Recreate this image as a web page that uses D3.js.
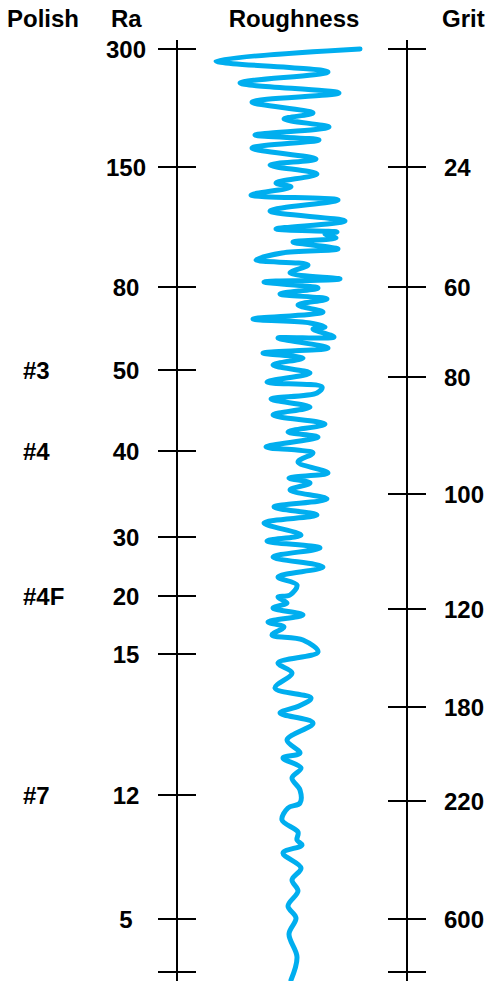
<!DOCTYPE html>
<html>
<head>
<meta charset="utf-8">
<script src="https://cdn.jsdelivr.net/npm/d3@7"></script>
<style>
  html, body { margin: 0; padding: 0; background: #fff; }
  svg { display: block; }
  text { font-family: "Liberation Sans", Arial, Helvetica, sans-serif; font-weight: bold; font-size: 24px; fill: #000; }
</style>
</head>
<body>
<script>
// ---- data ----
const headers = ["Polish", "Ra", "Roughness", "Grit"];

// Ra axis: tick labels and their depth on the chart (depth units, 0 = top of axes)
const raLabels = ["300", "150", "80", "50", "40", "30", "20", "15", "12", "5", ""];
const raDepth  = [9, 127, 247, 330, 411, 497, 556, 614, 755, 879, 932];

// Grit axis
const gritLabels = ["", "24", "60", "80", "100", "120", "180", "220", "600", ""];
const gritDepth  = [9, 127, 247, 337, 454, 569, 667, 761, 879, 932];

// Polish grades, aligned with Ra ticks
const polishLabels = ["#3", "#4", "#4F", "#7"];
const polishDepth  = [330, 411, 556, 755];

// Roughness trace: depth along the chart and lateral deflection (left -, right +)
const roughDepth = [9,21,32,43,53,62,73,79,87,95,100,108,119,125,134,143,147,155,160,171,181,189,192,194,198,202,209,213,220,225,233,239,242,248,254,259,265,272,279,283,287,289,297,298,308,313,318,325,333,342,347,353,359,367,375,384,392,397,407,410,413,422,433,438,443,450,459,467,475,483,495,501,508,517,527,537,545,555,557,563,568,575,582,587,595,600,612,623,633,648,658,666,673,683,700,713,718,728,738,750,763,768,780,792,800,805,813,828,840,851,866,878,894,917,940];
const roughAmp   = [66,-78,34,-54,45,-42,19,-10,35,-39,25,-42,22,-24,23,-18,-3,-43,44,-24,51,-18,43,31,42,-1,44,-12,-38,14,-4,46,-30,24,-14,33,4,29,-41,16,31,19,40,-16,34,-31,9,-21,16,-27,28,23,-23,16,-21,31,-6,24,-28,3,19,4,34,-5,16,-4,33,-20,23,-30,7,-27,26,-21,29,-16,3,-4,-16,-7,-21,9,-26,-10,-22,9,24,-16,-2,-19,17,5,-14,19,-7,6,-11,7,-2,6,6,-6,-12,4,3,8,-11,7,-2,4,-6,2,-5,3,-3];

// ---- layout ----
const W = 490, H = 981;
const svg = d3.select("body").append("svg").attr("width", W).attr("height", H);

const y = d3.scaleLinear().domain([0, 941]).range([40, 981]);
const xRough = d3.scaleLinear().domain([-100, 100]).range([194, 394]);

const raX = 177, gritX = 407, tickHalf = 19;
const axisStroke = "#000";

// headers
const headerPos = [
  { x: 7, anchor: "start" },
  { x: 111, anchor: "start" },
  { x: 294, anchor: "middle" },
  { x: 442, anchor: "start" }
];
svg.selectAll("text.header").data(headers).join("text")
  .attr("class", "header")
  .attr("x", (d, i) => headerPos[i].x)
  .attr("y", 27)
  .attr("text-anchor", (d, i) => headerPos[i].anchor)
  .text(d => d);

// axis lines
[raX, gritX].forEach(ax => {
  svg.append("line")
    .attr("x1", ax).attr("x2", ax)
    .attr("y1", y(0)).attr("y2", y(941))
    .attr("stroke", axisStroke).attr("stroke-width", 2);
});

// Ra ticks
svg.selectAll("line.raTick").data(raDepth).join("line")
  .attr("class", "raTick")
  .attr("x1", raX - tickHalf).attr("x2", raX + tickHalf)
  .attr("y1", d => y(d)).attr("y2", d => y(d))
  .attr("stroke", axisStroke).attr("stroke-width", 2);
svg.selectAll("text.raLabel").data(raLabels).join("text")
  .attr("class", "raLabel")
  .attr("x", 126)
  .attr("y", (d, i) => y(raDepth[i]) + 8.5)
  .attr("text-anchor", "middle")
  .text(d => d);

// Grit ticks
svg.selectAll("line.gritTick").data(gritDepth).join("line")
  .attr("class", "gritTick")
  .attr("x1", gritX - tickHalf).attr("x2", gritX + tickHalf)
  .attr("y1", d => y(d)).attr("y2", d => y(d))
  .attr("stroke", axisStroke).attr("stroke-width", 2);
svg.selectAll("text.gritLabel").data(gritLabels).join("text")
  .attr("class", "gritLabel")
  .attr("x", 444)
  .attr("y", (d, i) => y(gritDepth[i]) + 9)
  .attr("text-anchor", "start")
  .text(d => d);

// Polish labels
svg.selectAll("text.polish").data(polishLabels).join("text")
  .attr("class", "polish")
  .attr("x", 23)
  .attr("y", (d, i) => y(polishDepth[i]) + 8.5)
  .text(d => d);

// roughness trace
const pts = roughDepth.map((d, i) => [xRough(roughAmp[i]), y(d)]);
const line = d3.line().curve(d3.curveCatmullRom.alpha(0.5));
svg.append("path")
  .attr("d", line(pts))
  .attr("fill", "none")
  .attr("stroke", "#00AEEF")
  .attr("stroke-width", 5)
  .attr("stroke-linecap", "round")
  .attr("stroke-linejoin", "round");
</script>
</body>
</html>
